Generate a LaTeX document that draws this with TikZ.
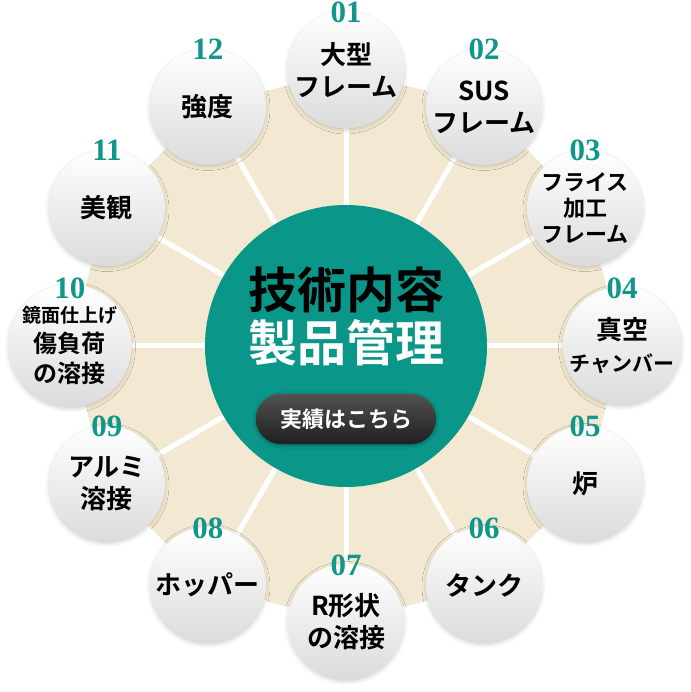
\documentclass[tikz,border=0pt]{standalone}
\usepackage{fontspec}
\newfontfamily\jpfont{Noto Sans CJK JP}[BoldFont={* Bold}]
\newfontfamily\numfont{Liberation Serif}
\usetikzlibrary{positioning,backgrounds,shadows.blur}
\definecolor{hubteal}{HTML}{0A9688}
\definecolor{numteal}{HTML}{10968A}
\definecolor{ringbeige}{HTML}{F3E9D2}
\newcommand{\smline}[2]{{\fontsize{#1}{#1}\selectfont #2}}

\begin{document}
\begin{tikzpicture}[
    x=1pt, y=1pt,
    hub/.style={circle, fill=hubteal, minimum size=282pt, inner sep=0pt},
    title/.style={font=\jpfont\bfseries\fontsize{49}{53}\selectfont, inner sep=0pt},
    btn/.style={rectangle, rounded corners=25pt, minimum width=180pt, minimum height=50pt,
        top color=black!68, bottom color=black!88, text=white,
        font=\jpfont\bfseries\fontsize{22}{26}\selectfont,
        blur shadow={shadow xshift=0pt, shadow yshift=-1pt, shadow blur radius=3pt, shadow opacity=40}},
    ring/.style={circle, minimum size=116pt, inner sep=0pt, align=center,
        top color=white, bottom color=black!14,
        blur shadow={shadow xshift=0pt, shadow yshift=-1.5pt, shadow blur radius=4pt, shadow opacity=18},
        font=\jpfont\bfseries\fontsize{26}{32}\selectfont},
    ringsm/.style={ring, font=\jpfont\bfseries\fontsize{22}{26}\selectfont},
    num/.style={anchor=base, inner sep=0pt, text=numteal, font=\numfont\bfseries\fontsize{31}{31}\selectfont},
    spoke/.style={draw=white, line width=5pt}
]
    \useasboundingbox (-346,-346) rectangle (344,346);

    % Centre
    \node[hub] (hub) at (0,0) {};
    \node[title, text=black] (ttl1) at (0,56) {技術内容};
    \node[title, text=white] (ttl2) at (0,3) {製品管理};
    \node[btn] (more) at (0,-73) {実績はこちら};

    % Outer ring
    \node[ring] (c01) at (90:276) {大型\\フレーム};
    \node[ring] (c02) at (60:276) {SUS\\フレーム};
    \node[ringsm] (c03) at (30:276) {フライス\\加工\\フレーム};
    \node[ring] (c04) at (0:276) {真空\\\smline{21}{チャンバー}};
    \node[ring] (c05) at (-30:276) {炉};
    \node[ring] (c06) at (-60:276) {タンク};
    \node[ring] (c07) at (-90:276) {R形状\\の溶接};
    \node[ring] (c08) at (-120:276) {ホッパー};
    \node[ring] (c09) at (-150:276) {アルミ\\溶接};
    \node[ring, font=\jpfont\bfseries\fontsize{24}{30}\selectfont] (c10) at (180:276)
        {\smline{19}{鏡面仕上げ}\\傷負荷\\の溶接};
    \node[ring] (c11) at (150:276) {美観};
    \node[ring] (c12) at (120:276) {強度};

    % Numbers
    \node[num] (n01) at ([yshift=47pt]c01.center) {01};
    \node[num] (n02) at ([yshift=47pt]c02.center) {02};
    \node[num] (n03) at ([yshift=47pt]c03.center) {03};
    \node[num] (n04) at ([yshift=47pt]c04.center) {04};
    \node[num] (n05) at ([yshift=47pt]c05.center) {05};
    \node[num] (n06) at ([yshift=47pt]c06.center) {06};
    \node[num] (n07) at ([yshift=47pt]c07.center) {07};
    \node[num] (n08) at ([yshift=47pt]c08.center) {08};
    \node[num] (n09) at ([yshift=47pt]c09.center) {09};
    \node[num] (n10) at ([yshift=47pt]c10.center) {10};
    \node[num] (n11) at ([yshift=47pt]c11.center) {11};
    \node[num] (n12) at ([yshift=47pt]c12.center) {12};

    % Beige disc and spokes
    \begin{pgfonlayer}{background}
        \fill[ringbeige] (hub.center) circle (267pt);
        \draw[spoke] (hub.center) -- (c01.center);
        \draw[spoke] (hub.center) -- (c02.center);
        \draw[spoke] (hub.center) -- (c03.center);
        \draw[spoke] (hub.center) -- (c04.center);
        \draw[spoke] (hub.center) -- (c05.center);
        \draw[spoke] (hub.center) -- (c06.center);
        \draw[spoke] (hub.center) -- (c07.center);
        \draw[spoke] (hub.center) -- (c08.center);
        \draw[spoke] (hub.center) -- (c09.center);
        \draw[spoke] (hub.center) -- (c10.center);
        \draw[spoke] (hub.center) -- (c11.center);
        \draw[spoke] (hub.center) -- (c12.center);
    \end{pgfonlayer}
\end{tikzpicture}
\end{document}
